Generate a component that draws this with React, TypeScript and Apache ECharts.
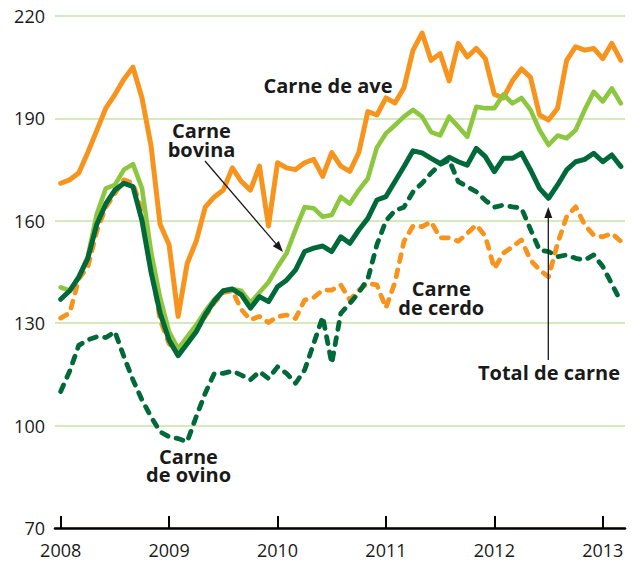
import React, { useEffect, useRef } from "react";
import * as echarts from "echarts";

// Monthly index, Jan 2008 = 0 ... Mar 2013 = 62
const years = [2008, 2009, 2010, 2011, 2012, 2013];

const carneDeAve = [
  171, 172, 174, 180, 186.5, 193, 197, 201.5, 205, 196,
  182, 159, 153, 132, 147.5, 154, 164, 167, 169, 175.5,
  171.5, 169, 176, 158.5, 177, 175.5, 175, 177, 178, 173,
  180, 176, 174.5, 180, 192, 191, 196, 194.5, 199, 210,
  215, 207, 209, 201, 212, 208, 210.5, 207.5, 197, 196,
  201, 204.5, 202, 191, 189.5, 193, 207, 211, 210, 210.5,
  207.5, 212, 207,
];

const carneBovina = [
  140.5, 139.5, 143.5, 149.5, 162, 169.5, 170.5, 175, 176.6, 169.5,
  151, 137.5, 127.5, 122.5, 126, 129.5, 133.5, 137, 139.5, 140,
  139.5, 136, 139, 142, 146.5, 150.5, 157.5, 164, 163.7, 161.2,
  161.7, 167, 165, 169, 172.4, 181.5, 185.6, 188, 190.5, 192.5,
  190.5, 186, 185, 190.5, 187.6, 184.6, 193.4, 193, 193, 197,
  194.4, 196, 192.5, 186.6, 182.2, 185, 184.2, 186.6, 192.5, 197.8,
  195, 198.8, 194.4,
];

const totalDeCarne = [
  137, 139.5, 143.5, 149, 159, 165, 169, 171, 170, 160,
  145, 133, 125, 120.5, 124, 127.5, 132.5, 136.5, 139.5, 140,
  138.3, 134.4, 137.8, 136.3, 140.7, 142.6, 145.6, 151, 152, 152.6,
  151, 155.3, 153.4, 157.3, 160.7, 166.1, 167.1, 171.5, 175.9, 180.5,
  179.9, 178.3, 176.8, 178.6, 177.3, 176.3, 181.2, 178.8, 174.4, 178.3,
  178.3, 179.8, 174.9, 169.5, 166.6, 170.5, 174.9, 177.3, 178, 179.8,
  177.3, 179.3, 175.9,
];

const carneDeCerdo = [
  131.5, 133, 143, 146.5, 157, 164, 168, 172, 171, 163,
  147, 131, 124, 121.5, 124, 128, 132, 136, 139, 139.5,
  134, 131, 132, 130.2, 131.9, 132.4, 131.4, 136.8, 137.5, 139.7,
  139.7, 141.2, 136.8, 139.7, 141.7, 141.2, 134.5, 142, 154, 158.5,
  158.3, 159.7, 155, 155, 154, 156.3, 158.8, 155.5, 146, 150.5,
  152.4, 154.4, 148.5, 145.6, 143.6, 153.4, 161.2, 164.1, 158.8, 155.8,
  155.3, 156.3, 154,
];

const carneDeOvino = [
  110, 116, 123.5, 125.1, 126, 125.8, 127.5, 120.2, 113.4, 107.5,
  102.6, 98.2, 96.7, 96.2, 95.3, 102.6, 109.5, 115.3, 115.3, 116,
  114.8, 113.4, 115.8, 113.8, 117.2, 115.3, 112.4, 116.3, 124, 131.9,
  118.2, 132.9, 135.8, 139, 143, 153, 160, 163, 164, 168.5,
  171, 174, 176.5, 177.8, 171.5, 170, 168.5, 166, 164, 164.6,
  164.1, 163.7, 157.5, 151.4, 151, 149.5, 150, 149, 148.5, 150,
  146.6, 141.5, 136.3,
];

const ORANGE = "#f7941d";
const LIGHT_GREEN = "#8dc63f";
const DARK_GREEN = "#00693a";
const GRID_GREEN = "#c6e2a6";
const TEXT = "#1a1a1a";
const FONT = '"Open Sans", "Noto Sans", sans-serif';

function toPairs(arr: number[]) {
  return arr.map((v, i) => [i, v]);
}

function label(text: string, x: number, y: number, size = 20, lineHeight = 20) {
  return {
    type: "text",
    x,
    y,
    z: 100,
    silent: true,
    style: {
      text,
      fontFamily: FONT,
      fontWeight: "bold",
      fontSize: size,
      lineHeight,
      fill: TEXT,
      align: "center",
      verticalAlign: "middle",
    },
  };
}

function arrow(x1: number, y1: number, x2: number, y2: number) {
  const dx = x2 - x1;
  const dy = y2 - y1;
  const len = Math.sqrt(dx * dx + dy * dy);
  const ux = dx / len;
  const uy = dy / len;
  const headLen = 11;
  const headHalf = 4;
  const bx = x2 - ux * headLen;
  const by = y2 - uy * headLen;
  const nx = -uy;
  const ny = ux;
  return [
    {
      type: "line",
      z: 100,
      silent: true,
      shape: { x1, y1, x2: bx, y2: by },
      style: { stroke: TEXT, lineWidth: 1.3 },
    },
    {
      type: "polygon",
      z: 100,
      silent: true,
      shape: {
        points: [
          [x2, y2],
          [bx + nx * headHalf, by + ny * headHalf],
          [bx - nx * headHalf, by - ny * headHalf],
        ],
      },
      style: { fill: TEXT },
    },
  ];
}

export default function App() {
  const ref = useRef<HTMLDivElement>(null);

  useEffect(() => {
    document.body.style.margin = "0";
    const chart = echarts.init(ref.current as HTMLDivElement, null, {
      renderer: "svg",
    });
    const yearTickValues = years.map((y) => (y - years[0]) * 12);

    const solid = (name: string, data: number[], color: string, width: number, z: number) => ({
      name,
      type: "line",
      data: toPairs(data),
      symbol: "none",
      showSymbol: false,
      smooth: false,
      silent: true,
      z,
      lineStyle: { color, width, cap: "round", join: "round" },
    });
    const dashed = (name: string, data: number[], color: string, width: number, z: number) => ({
      name,
      type: "line",
      data: toPairs(data),
      symbol: "none",
      showSymbol: false,
      smooth: false,
      silent: true,
      z,
      lineStyle: { color, width, type: [7, 8.5], cap: "round", join: "round" },
    });

    const option: any = {
      animation: false,
      backgroundColor: "#ffffff",
      grid: {
        left: 55,
        right: 13,
        top: 16,
        bottom: 34,
        containLabel: false,
        outerBoundsMode: "none",
      },
      xAxis: {
        type: "value",
        min: -0.63,
        max: 62.46,
        axisLine: { show: true, lineStyle: { color: "#000", width: 2.5 } },
        axisTick: {
          show: true,
          inside: true,
          length: 12,
          customValues: yearTickValues,
          lineStyle: { color: "#000", width: 2 },
        },
        axisLabel: {
          customValues: yearTickValues,
          formatter: (v: number) => String(years[Math.round(v / 12)]),
          fontFamily: FONT,
          fontSize: 18,
          color: TEXT,
          margin: 13,
        },
        splitLine: { show: false },
      },
      yAxis: {
        type: "value",
        min: 70,
        max: 220,
        interval: 30,
        axisLine: { show: false },
        axisTick: { show: false },
        axisLabel: {
          fontFamily: FONT,
          fontSize: 18,
          color: TEXT,
          margin: 10,
        },
        splitLine: { show: true, lineStyle: { color: GRID_GREEN, width: 1.5 } },
      },
      series: [
        dashed("Carne de cerdo", carneDeCerdo, ORANGE, 4.8, 2),
        dashed("Carne de ovino", carneDeOvino, DARK_GREEN, 4.8, 3),
        solid("Carne de ave", carneDeAve, ORANGE, 5, 4),
        solid("Carne bovina", carneBovina, LIGHT_GREEN, 4.6, 5),
        solid("Total de carne", totalDeCarne, DARK_GREEN, 5, 6),
      ],
      graphic: [
        label("Carne de ave", 328, 85.5),
        label("Carne\nbovina", 201.5, 140.2, 20, 18.5),
        label("Carne\nde cerdo", 441.3, 298.2, 20, 18.5),
        label("Total de carne", 549, 372.2),
        label("Carne\nde ovino", 188.5, 465.5, 20, 18.5),
        ...arrow(205, 161, 283, 252),
        ...arrow(548.3, 360, 548.3, 207),
      ],
    };

    chart.setOption(option);
    return () => chart.dispose();
  }, []);

  return <div ref={ref} style={{ width: 638, height: 562 }} />;
}
